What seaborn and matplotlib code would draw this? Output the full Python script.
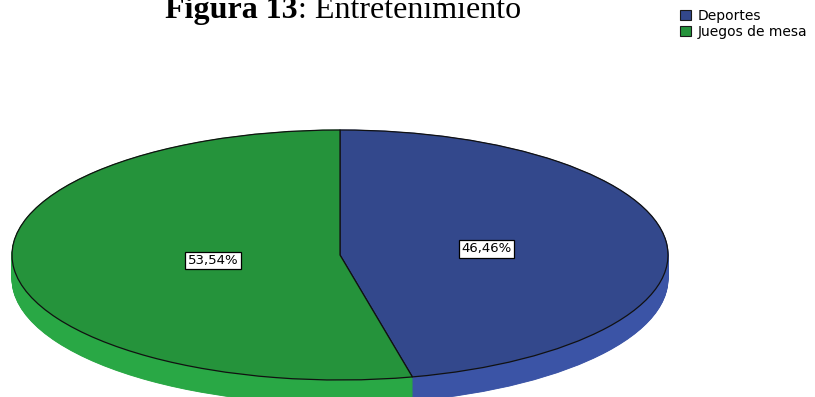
import numpy as np
import pandas as pd
import matplotlib
matplotlib.use("Agg")
import matplotlib.pyplot as plt
from matplotlib.patches import Patch
import seaborn as sns

# Data
categories = ["Deportes", "Juegos de mesa"]
percentages = [46.46, 53.54]
title_bold = "Figura 13"
title_rest = ": Entretenimiento"

# Colours: top face and the lighter rim
top_colors = ["#33488C", "#25933B"]
side_colors = ["#3B54A6", "#29A845"]
# radial placement of each percentage label (fraction of the radius)
label_radius = [0.45, 0.39]

df = pd.DataFrame({"categoria": categories, "porcentaje": percentages})

sns.set_theme(style="white")
plt.rcParams["font.family"] = ["DejaVu Sans"]
plt.rcParams["text.color"] = "black"

W, H, DPI = 815, 397, 100
fig = plt.figure(figsize=(W / DPI, H / DPI), dpi=DPI)
ax = fig.add_axes([0, 0, 1, 1])

# pixel geometry of the ellipse
cx, cy, rx, ry = 340.0, 255.0, 328.0, 125.0
depth = 24.0 / ry

# rim: stacked copies of the pie shifted downwards
for off in np.linspace(-depth, 0, 40):
    ax.pie(df["porcentaje"], colors=side_colors, startangle=90,
           counterclock=False, center=(0, off),
           wedgeprops=dict(linewidth=0.6))
for w in ax.patches:
    w.set_edgecolor(w.get_facecolor())

# top face
wedges, texts, autotexts = ax.pie(
    df["porcentaje"], colors=top_colors, startangle=90, counterclock=False,
    autopct=lambda p: f"{p:.2f}%".replace(".", ","), pctdistance=1.0,
    wedgeprops=dict(linewidth=0.9, edgecolor="#111111"),
    textprops=dict(fontsize=9.5, color="black"))
for t, r in zip(autotexts, label_radius):
    x, y = t.get_position()
    t.set_position((x * r, y * r))
    t.set_bbox(dict(boxstyle="square,pad=0.18", fc="white", ec="black", lw=0.9))

ax.set_aspect("auto")
ax.set_xlim(-cx / rx, (W - cx) / rx)
ax.set_ylim(-(H - cy) / ry, cy / ry)
ax.axis("off")

# legend
handles = [Patch(facecolor=c, edgecolor="#1a1a1a", linewidth=0.8) for c in top_colors]
leg = fig.legend(handles, categories, loc="upper left",
                 bbox_to_anchor=(680 / W, 1 - 9 / H), frameon=False,
                 fontsize=10, handlelength=0.8, handleheight=0.7,
                 handletextpad=0.45, labelspacing=0.12, borderpad=0.0,
                 borderaxespad=0.0)
for t in leg.get_texts():
    t.set_color("black")

# title, bold part followed by regular part
serif = ["Liberation Serif", "DejaVu Serif"]
base_y = 1 - 18 / H
t1 = fig.text(165 / W, base_y, title_bold, fontsize=23, fontweight="bold",
              family=serif, va="baseline", ha="left", color="black")
fig.canvas.draw()
bb = t1.get_window_extent(renderer=fig.canvas.get_renderer())
fig.text(bb.x1 / W, base_y, title_rest, fontsize=23, family=serif,
         va="baseline", ha="left", color="black")

fig.savefig("out.png", dpi=DPI)
